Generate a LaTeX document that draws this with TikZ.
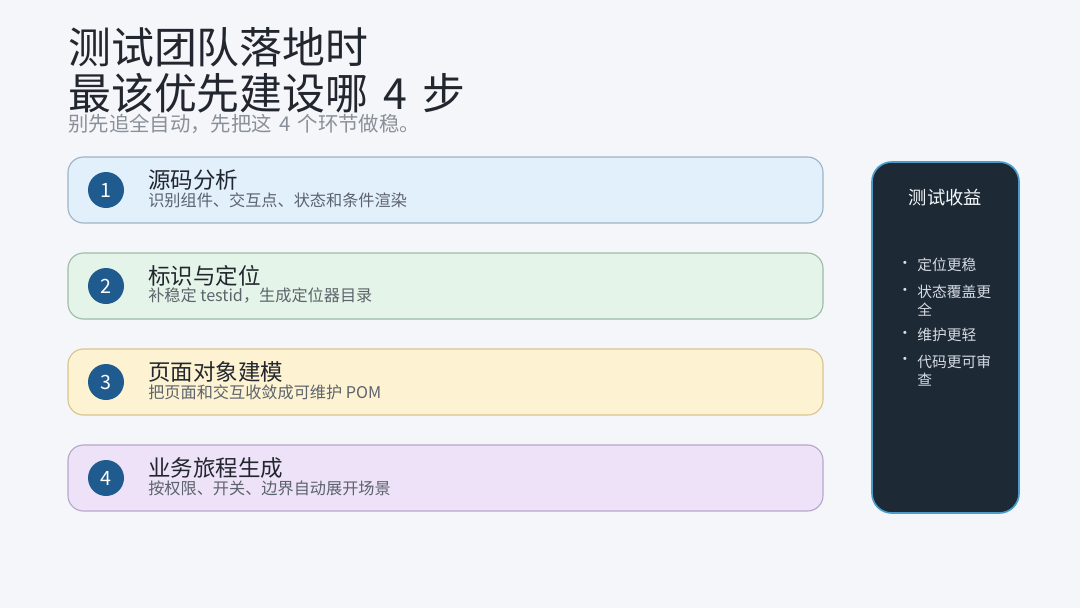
\documentclass[tikz,border=0pt]{standalone}
\usepackage{fontspec}
\setmainfont{Noto Sans CJK SC}
\usetikzlibrary{positioning,backgrounds}
\definecolor{planBg}{RGB}{244,246,250}
\definecolor{planInk}{RGB}{34,38,46}
\definecolor{planGray}{RGB}{138,144,153}
\definecolor{planSub}{RGB}{92,99,108}
\definecolor{planDisc}{RGB}{31,91,142}
\definecolor{stepBlue}{RGB}{226,240,252}
\definecolor{stepBlueRule}{RGB}{157,179,196}
\definecolor{stepGreen}{RGB}{228,244,232}
\definecolor{stepGreenRule}{RGB}{157,187,166}
\definecolor{stepSand}{RGB}{253,243,210}
\definecolor{stepSandRule}{RGB}{216,196,142}
\definecolor{stepLilac}{RGB}{238,226,248}
\definecolor{stepLilacRule}{RGB}{182,167,201}
\definecolor{gainFill}{RGB}{30,41,54}
\definecolor{gainRule}{RGB}{75,156,203}
\definecolor{gainText}{RGB}{213,219,226}
\tikzset{
  ptitle/.style={font=\fontsize{30.5}{32.5}\selectfont, text=planInk,
    align=left, inner sep=0pt, anchor=west},
  psub/.style={font=\fontsize{14.5}{17}\selectfont, text=planGray,
    inner sep=0pt, anchor=west},
  stepcard/.style={rounded corners=11pt, line width=.8pt,
    minimum width=18.875cm, minimum height=1.65cm},
  disc/.style={circle, fill=planDisc, minimum size=.9cm, inner sep=0pt,
    font=\fontsize{14}{16}\selectfont, text=white},
  shead/.style={font=\fontsize{16}{18}\selectfont, text=planInk,
    inner sep=0pt, anchor=west},
  sbody/.style={font=\fontsize{11.5}{13}\selectfont, text=planSub,
    inner sep=0pt, anchor=west}
}
\begin{document}
\begin{tikzpicture}[
  gainpanel/.style={rounded corners=14pt, line width=1.2pt, draw=gainRule,
    fill=gainFill, minimum width=3.675cm, minimum height=8.775cm},
  gainhead/.style={font=\fontsize{13}{15}\selectfont, text=white!94!gainRule,
    inner sep=0pt},
  gainitem/.style={font=\fontsize{10.5}{13}\selectfont, text=gainText,
    align=left, inner sep=0pt, anchor=west},
  gaindot/.style={font=\fontsize{10.5}{13}\selectfont, text=gainText!80,
    inner sep=0pt}
]
\path[use as bounding box, fill=planBg] (0,0) rectangle (27,-15.2);

\node[ptitle] (title) at (1.7,-1.76)
  {测试团队落地时\\最该优先建设哪\hspace{.35em}4\hspace{.35em}步};
\node[psub] (sub) at (1.7,-3.1)
  {别先追全自动，先把这\hspace{.35em}4\hspace{.35em}个环节做稳。};

% the four steps
\node[stepcard, draw=stepBlueRule, fill=stepBlue] (s1) at (11.1375,-4.75) {};
\node[stepcard, draw=stepGreenRule, fill=stepGreen] (s2) at (11.1375,-7.15) {};
\node[stepcard, draw=stepSandRule, fill=stepSand] (s3) at (11.1375,-9.55) {};
\node[stepcard, draw=stepLilacRule, fill=stepLilac] (s4) at (11.1375,-11.95) {};

\node[disc] (n1) at (2.65,-4.75) {1};
\node[disc] (n2) at (2.65,-7.15) {2};
\node[disc] (n3) at (2.65,-9.55) {3};
\node[disc] (n4) at (2.65,-11.95) {4};

\node[shead] (h1) at (3.7,-4.49) {源码分析};
\node[sbody] (b1) at (3.7,-5.0) {识别组件、交互点、状态和条件渲染};
\node[shead] (h2) at (3.7,-6.89) {标识与定位};
\node[sbody] (b2) at (3.7,-7.4) {补稳定 testid，生成定位器目录};
\node[shead] (h3) at (3.7,-9.29) {页面对象建模};
\node[sbody] (b3) at (3.7,-9.8) {把页面和交互收敛成可维护 POM};
\node[shead] (h4) at (3.7,-11.69) {业务旅程生成};
\node[sbody] (b4) at (3.7,-12.2) {按权限、开关、边界自动展开场景};

% gains panel
\node[gainpanel] (gain) at (23.6375,-8.4375) {};
\node[gainhead] (gh) at (23.6375,-4.93) {测试收益};

\node[gaindot] (d1) at (22.625,-6.625) {·};
\node[gainitem] (g1) at (22.925,-6.625) {定位更稳};
\node[gaindot] (d2) at (22.625,-7.3) {·};
\node[gainitem] (g2) at (22.925,-7.525) {状态覆盖更\\全};
\node[gaindot] (d3) at (22.625,-8.375) {·};
\node[gainitem] (g3) at (22.925,-8.375) {维护更轻};
\node[gaindot] (d4) at (22.625,-9.025) {·};
\node[gainitem] (g4) at (22.925,-9.2625) {代码更可审\\查};
\end{tikzpicture}
\end{document}
